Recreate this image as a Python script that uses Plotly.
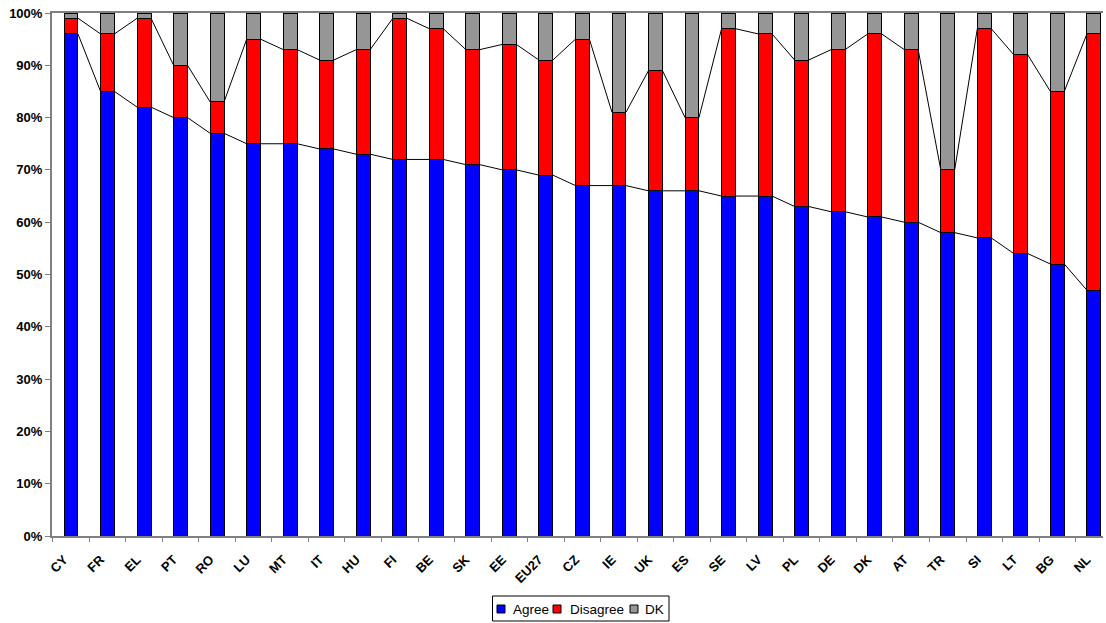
import plotly.graph_objects as go

# Countries sorted by share of "Agree"
countries = ["CY", "FR", "EL", "PT", "RO", "LU", "MT", "IT", "HU", "FI",
             "BE", "SK", "EE", "EU27", "CZ", "IE", "UK", "ES", "SE", "LV",
             "PL", "DE", "DK", "AT", "TR", "SI", "LT", "BG", "NL"]
agree = [96, 85, 82, 80, 77, 75, 75, 74, 73, 72,
         72, 71, 70, 69, 67, 67, 66, 66, 65, 65,
         63, 62, 61, 60, 58, 57, 54, 52, 47]
disagree = [3, 11, 17, 10, 6, 20, 18, 17, 20, 27,
            25, 22, 24, 22, 28, 14, 23, 14, 32, 31,
            28, 31, 35, 33, 12, 40, 38, 33, 49]
dk = [1, 4, 1, 10, 17, 5, 7, 9, 7, 1,
      3, 7, 6, 9, 5, 19, 11, 20, 3, 4,
      9, 7, 4, 7, 30, 3, 8, 15, 4]

series_names = ["Agree", "Disagree", "DK"]
series_colors = ["#0000FF", "#FF0000", "#969696"]
y_ticks = [0, 10, 20, 30, 40, 50, 60, 70, 80, 90, 100]

W, H = 1106, 623
L, R, T, B = 52, 3, 13, 87
bar_w = 0.38
x = list(range(len(countries)))
x_range = [-0.52, 28.25]
font = "Liberation Sans, Arial, sans-serif"


# pixel -> paper coordinates (for the hand-made legend)
def px(p):
    return (p - L) / (W - L - R)


def py(p):
    return (H - B - p) / (H - T - B)


fig = go.Figure()
for name, vals, col in zip(series_names, [agree, disagree, dk], series_colors):
    fig.add_trace(go.Bar(x=x, y=vals, name=name, width=bar_w,
                         marker=dict(color=col, line=dict(color="black", width=1))))


# Excel-style series lines between the tops of the stacked segments
def series_line(tops):
    lx, ly = [], []
    for i in range(len(tops) - 1):
        lx += [i + bar_w / 2, i + 1 - bar_w / 2, None]
        ly += [tops[i], tops[i + 1], None]
    return lx, ly


top1 = agree
top2 = [a + d for a, d in zip(agree, disagree)]
for tops in (top1, top2):
    lx, ly = series_line(tops)
    fig.add_trace(go.Scatter(x=lx, y=ly, mode="lines", showlegend=False,
                             hoverinfo="skip",
                             line=dict(color="black", width=1)))

# dummy invisible trace so xaxis2 (ticks between categories) gets drawn
fig.add_trace(go.Scatter(x=[x[0]], y=[None], xaxis="x2", showlegend=False,
                         hoverinfo="skip"))

# legend box drawn by hand, Excel-style: small squares, tight spacing
shapes = [dict(type="rect", xref="paper", yref="paper",
               x0=px(492.5), x1=px(669), y0=py(596), y1=py(621),
               line=dict(color="black", width=1), fillcolor="white")]
annotations = []
sq_x = [497, 553, 630]
txt_x = [511, 568, 643]
for name, col, sx, tx in zip(series_names, series_colors, sq_x, txt_x):
    shapes.append(dict(type="rect", xref="paper", yref="paper",
                       x0=px(sx), x1=px(sx + 8), y0=py(605), y1=py(613),
                       line=dict(color="black", width=1), fillcolor=col))
    annotations.append(dict(text=name, xref="paper", yref="paper",
                            x=px(tx), y=py(609), xanchor="left", yanchor="middle",
                            showarrow=False, font=dict(size=13.5, family=font)))

fig.update_layout(
    barmode="stack",
    width=W, height=H,
    margin=dict(l=L, r=R, t=T, b=B, autoexpand=False),
    plot_bgcolor="white", paper_bgcolor="white",
    font=dict(family=font, color="black"),
    showlegend=False,
    shapes=shapes,
    annotations=annotations,
    xaxis=dict(range=x_range, tickmode="array", tickvals=x, ticktext=countries,
               tickangle=-45, ticks="", showgrid=False, zeroline=False,
               showline=True, linecolor="#808080", linewidth=2, mirror=True,
               ticklabelstandoff=9, ticklabelshift=-7,
               tickfont=dict(size=13, family=font, weight="bold")),
    xaxis2=dict(range=x_range, overlaying="x", side="bottom", anchor="y",
                tickmode="array",
                tickvals=[i + 0.5 for i in range(-1, len(countries))],
                showticklabels=False, ticks="outside", ticklen=5,
                tickcolor="#808080", showgrid=False, zeroline=False,
                showline=False),
    yaxis=dict(range=[0, 100], tickvals=y_ticks,
               ticktext=[f"{v}%" for v in y_ticks],
               ticks="outside", ticklen=5, tickcolor="#808080",
               showgrid=False, zeroline=False,
               showline=True, linecolor="#808080", linewidth=2,
               tickfont=dict(size=13, family=font, weight="bold")),
)

# the page body has a default 8px margin; drop it so the figure sits at 0,0
fig.write_html("out.html", config={"displayModeBar": False},
               post_script="document.body.style.margin='0px';")
